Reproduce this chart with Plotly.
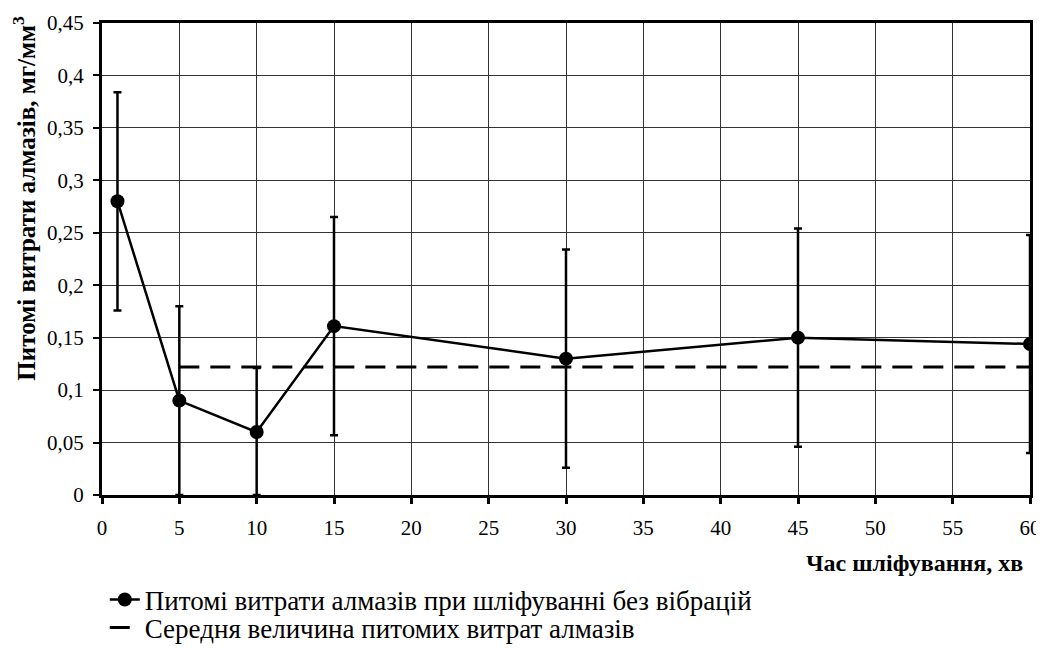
import plotly.graph_objects as go

time_min = [1, 5, 10, 15, 30, 45, 60]
wear = [0.28, 0.09, 0.06, 0.161, 0.13, 0.15, 0.144]
err_plus = [0.104, 0.09, 0.061, 0.104, 0.104, 0.104, 0.104]
err_minus = [0.104, 0.09, 0.06, 0.104, 0.104, 0.104, 0.104]
mean_x = [5, 60]
mean_y = [0.122, 0.122]

x_ticks = list(range(0, 61, 5))
y_ticks = [0, 0.05, 0.1, 0.15, 0.2, 0.25, 0.3, 0.35, 0.4, 0.45]
y_ticklabels = ["0", "0,05", "0,1", "0,15", "0,2", "0,25", "0,3", "0,35", "0,4", "0,45"]

series1_name = "Питомі витрати алмазів при шліфуванні без вібрацій"
series2_name = "Середня величина питомих витрат алмазів"
x_title = "Час шліфування, хв"
y_title = "Питомі витрати алмазів, мг/мм<sup>3</sup>"

FONT = "Liberation Serif"

fig = go.Figure()
fig.add_trace(go.Scatter(
    x=time_min, y=wear, mode="lines+markers", name=series1_name,
    line=dict(color="black", width=2.5),
    marker=dict(color="black", size=14),
    error_y=dict(type="data", symmetric=False, array=err_plus, arrayminus=err_minus,
                 color="black", thickness=2.5, width=4),
    legend="legend",
))
fig.add_trace(go.Scatter(
    x=mean_x, y=mean_y, mode="lines", name=series2_name,
    line=dict(color="black", width=3, dash="20px,11px"),
    legend="legend2",
))

legend_font = dict(family=FONT, size=27, color="black")

fig.update_layout(
    width=1036, height=640,
    paper_bgcolor="white", plot_bgcolor="white",
    separators=", ",
    font=dict(family=FONT, size=21, color="black"),
    margin=dict(l=94, r=14, t=15, b=153, autoexpand=False),
    showlegend=True,
    legend=dict(x=0.003, y=-0.2225, xanchor="left", yanchor="middle",
                font=legend_font, itemwidth=30, bgcolor="rgba(0,0,0,0)"),
    legend2=dict(x=0.003, y=-0.2818, xanchor="left", yanchor="middle",
                 font=legend_font, itemwidth=30, bgcolor="rgba(0,0,0,0)"),
    xaxis=dict(range=[0, 60], tickvals=x_ticks, automargin=False,
               showgrid=True, gridcolor="#333333", gridwidth=1,
               showline=True, linecolor="black", linewidth=3, mirror=True,
               ticks="outside", ticklen=6, tickwidth=2.5, tickcolor="black",
               ticklabelstandoff=6,
               zeroline=False, tickfont=dict(family=FONT, size=21)),
    yaxis=dict(range=[0, 0.45], tickvals=y_ticks, ticktext=y_ticklabels, automargin=False,
               showgrid=True, gridcolor="#333333", gridwidth=1,
               showline=True, linecolor="black", linewidth=3, mirror=True,
               ticks="outside", ticklen=6, tickwidth=2, tickcolor="black",
               ticklabelstandoff=5,
               zeroline=False, tickfont=dict(family=FONT, size=21)),
    annotations=[
        dict(text="<b>" + x_title + "</b>", xref="paper", yref="paper", x=0.9946, y=-0.144,
             xanchor="right", yanchor="middle", showarrow=False,
             font=dict(family=FONT, size=24, color="black")),
        dict(text="<b>" + y_title + "</b>", xref="paper", yref="paper", x=-0.084, y=0.628,
             xanchor="center", yanchor="middle", textangle=-90, showarrow=False,
             font=dict(family=FONT, size=25, color="black")),
    ],
)

fig.write_html("out.html")
